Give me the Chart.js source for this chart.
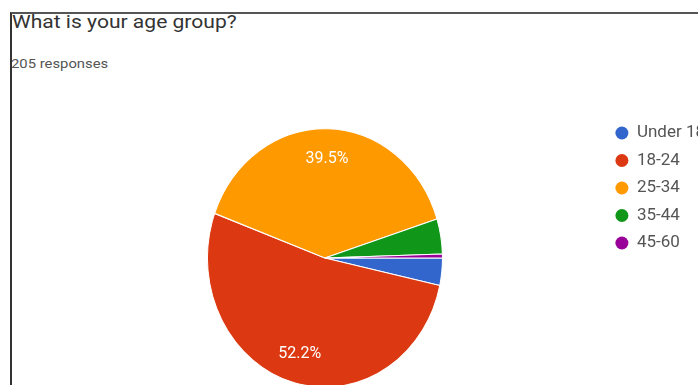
<!DOCTYPE html>
<html>
<head>
<meta charset="utf-8">
<title>What is your age group?</title>
<script src="https://cdn.jsdelivr.net/npm/chart.js@4.4.1/dist/chart.umd.min.js"></script>
<style>
  html, body { margin: 0; padding: 0; background: #fff; }
  body { position: relative; width: 698px; height: 385px; overflow: hidden; font-family: Roboto, sans-serif; }
  .frame { position: absolute; left: 10px; top: 12px; right: -10px; bottom: -10px; border-top: 2px solid #555; border-left: 2px solid #333; }
  .title, .subtitle { position: absolute; line-height: 1; white-space: nowrap; transform-origin: 0 0; }
  .title { left: 12px; top: 13px; font-size: 18px; color: #333; transform: scaleX(1.17); }
  .subtitle { left: 11px; top: 57px; font-size: 13px; color: #555; transform: scaleX(1.14); }
  .chart-box { position: absolute; left: 0; top: 0; width: 720px; height: 410px; }
</style>
</head>
<body>
<div class="frame"></div>
<div class="title">What is your age group?</div>
<div class="subtitle" id="responses"></div>
<div class="chart-box"><canvas id="ageChart"></canvas></div>
<script>
// Survey answers
const categories = ['Under 18', '18-24', '25-34', '35-44', '45-60'];
const responses = [7, 107, 81, 9, 1];

const palette = ['#3366cc', '#dc3912', '#ff9900', '#109618', '#990099'];
const total = responses.reduce((a, b) => a + b, 0);
document.getElementById('responses').textContent = total + ' responses';

// the screenshot is a bit taller than wide, so squash the pie into an oval
const stretchY = 1.1;

const ovalPie = {
    id: 'ovalPie',
    beforeDatasetsDraw(chart) {
        const arc = chart.getDatasetMeta(0).data[0];
        const ctx = chart.ctx;
        ctx.save();
        ctx.translate(arc.x, arc.y);
        ctx.scale(1, stretchY);
        ctx.translate(-arc.x, -arc.y);
    },
    afterDatasetsDraw(chart) {
        const ctx = chart.ctx;
        ctx.restore();

        // percentage labels on the big slices
        ctx.save();
        ctx.fillStyle = '#fff';
        ctx.font = '16px Roboto';
        ctx.textAlign = 'center';
        ctx.textBaseline = 'middle';
        chart.getDatasetMeta(0).data.forEach((arc, i) => {
            const share = responses[i] / total;
            if (share < 0.05) return;
            const mid = (arc.startAngle + arc.endAngle) / 2;
            const r = arc.outerRadius * 0.77;
            const x = arc.x + Math.cos(mid) * r;
            const y = arc.y + Math.sin(mid) * r * stretchY;
            ctx.fillText((share * 100).toFixed(1) + '%', x, y);
        });
        ctx.restore();
    }
};

Chart.defaults.font.family = 'Roboto';

const ctx = document.getElementById('ageChart').getContext('2d');
const ageChart = new Chart(ctx, {
    type: 'pie',
    data: {
        labels: categories,
        datasets: [{
            data: responses,
            backgroundColor: palette,
            borderColor: '#fff',
            borderWidth: 1,
            radius: 117.5
        }]
    },
    options: {
        responsive: true,
        maintainAspectRatio: false,
        animation: false,
        rotation: 90,
        layout: { padding: { top: 114, left: 45, right: 5, bottom: 8 } },
        plugins: {
            legend: {
                position: 'right',
                align: 'start',
                labels: {
                    usePointStyle: true,
                    pointStyle: 'circle',
                    boxHeight: 9.2,
                    pointStyleWidth: 13,
                    padding: 10.5,
                    color: '#555',
                    font: { size: 17 },
                    generateLabels: (chart) => Chart.overrides.pie.plugins.legend.labels
                        .generateLabels(chart).map(item => ({ ...item, lineWidth: 0 }))
                }
            },
            tooltip: { enabled: false }
        }
    },
    plugins: [ovalPie]
});
</script>
</body>
</html>
